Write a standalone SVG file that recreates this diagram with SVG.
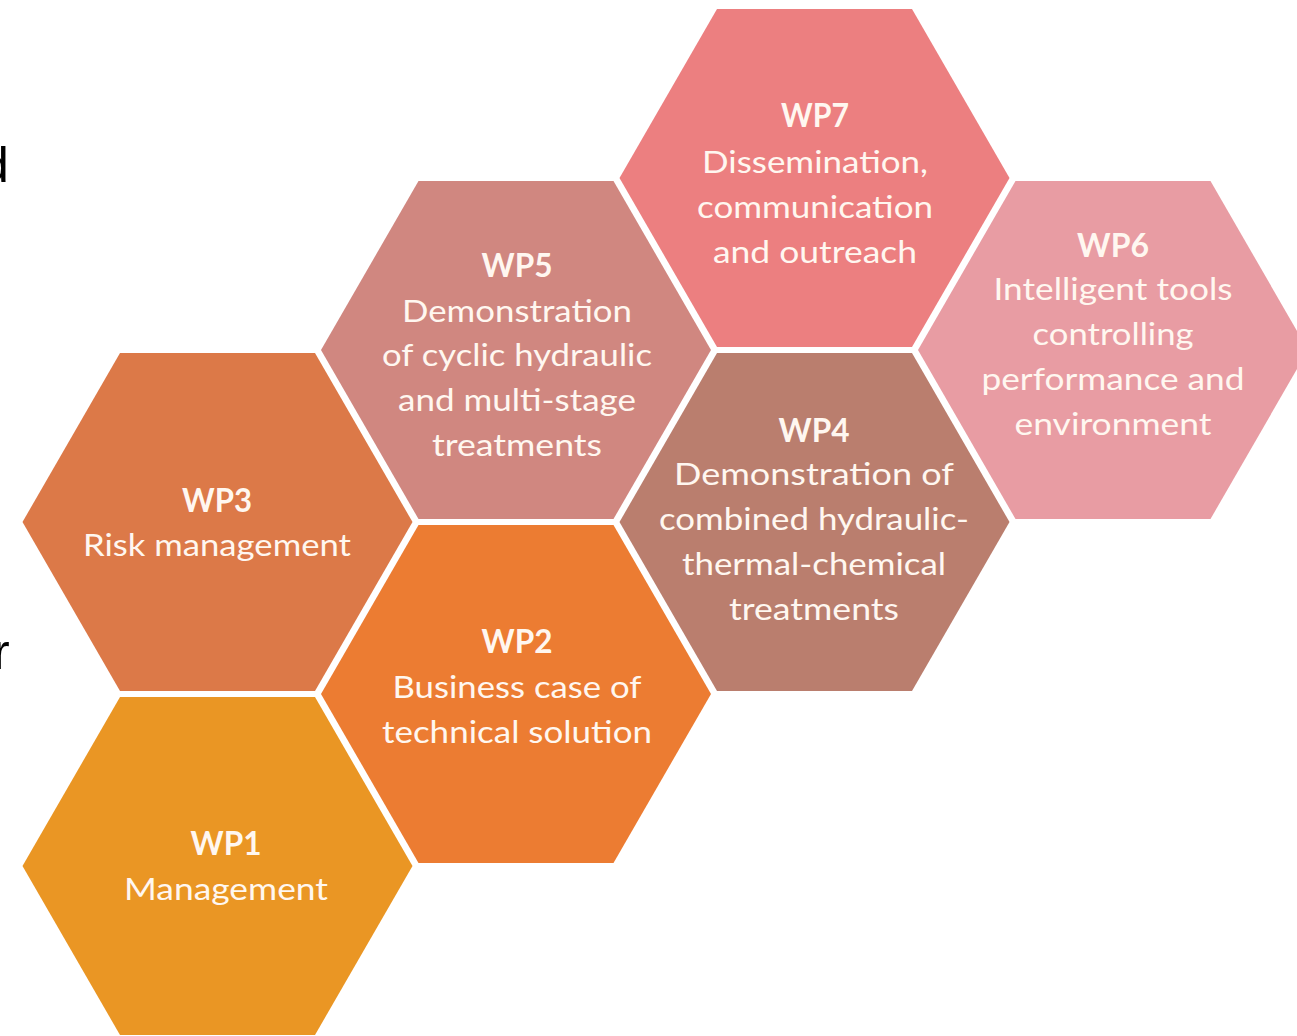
<svg xmlns="http://www.w3.org/2000/svg" width="1297" height="1036" viewBox="0 0 1297 1036">
<style>
.t{font-family:Lato,"Liberation Sans",sans-serif;font-size:31.5px;fill:#FFF7F0;text-anchor:middle}
.b{font-weight:bold}
.edge{font-family:"Liberation Sans",sans-serif;font-size:50px;fill:#000}
</style>
<defs>
<polygon id="hex" points="-195,0 -97.5,-169 97.5,-169 195,0 97.5,169 -97.5,169"/>
</defs>
<rect width="1297" height="1036" fill="#FFFFFF"/>
<text class="edge" x="-19" y="182">d</text>
<text class="edge" x="-7" y="669">r</text>
<g id="connectors"/>
<g id="wp1">
<use href="#hex" x="217.5" y="866" fill="#EA9624"/>
<text class="t b" x="226" y="855" textLength="71" lengthAdjust="spacingAndGlyphs">WP1</text>
<text class="t" x="226" y="900" textLength="204" lengthAdjust="spacingAndGlyphs">Management</text>
</g>
<g id="wp3">
<use href="#hex" x="217.5" y="522" fill="#DC7948"/>
<text class="t b" x="217" y="512" textLength="70" lengthAdjust="spacingAndGlyphs">WP3</text>
<text class="t" x="217" y="556" textLength="268" lengthAdjust="spacingAndGlyphs">Risk management</text>
</g>
<g id="wp2">
<use href="#hex" x="516" y="694" fill="#EC7C32"/>
<text class="t b" x="517" y="653" textLength="71" lengthAdjust="spacingAndGlyphs">WP2</text>
<text class="t" x="517" y="698" textLength="249" lengthAdjust="spacingAndGlyphs">Business case of</text>
<text class="t" x="517" y="743" textLength="270" lengthAdjust="spacingAndGlyphs">technical solution</text>
</g>
<g id="wp5">
<use href="#hex" x="516" y="350" fill="#D08780"/>
<text class="t b" x="517" y="277" textLength="71" lengthAdjust="spacingAndGlyphs">WP5</text>
<text class="t" x="517" y="322" textLength="230" lengthAdjust="spacingAndGlyphs">Demonstration</text>
<text class="t" x="517" y="366" textLength="270" lengthAdjust="spacingAndGlyphs">of cyclic hydraulic</text>
<text class="t" x="517" y="411" textLength="238" lengthAdjust="spacingAndGlyphs">and multi-stage</text>
<text class="t" x="517" y="456" textLength="170" lengthAdjust="spacingAndGlyphs">treatments</text>
</g>
<g id="wp4">
<use href="#hex" x="814.5" y="522" fill="#BA7E6E"/>
<text class="t b" x="814" y="442" textLength="71" lengthAdjust="spacingAndGlyphs">WP4</text>
<text class="t" x="814" y="485" textLength="280" lengthAdjust="spacingAndGlyphs">Demonstration of</text>
<text class="t" x="814" y="530" textLength="310" lengthAdjust="spacingAndGlyphs">combined hydraulic-</text>
<text class="t" x="814" y="575" textLength="264" lengthAdjust="spacingAndGlyphs">thermal-chemical</text>
<text class="t" x="814" y="620" textLength="170" lengthAdjust="spacingAndGlyphs">treatments</text>
</g>
<g id="wp7">
<use href="#hex" x="814.5" y="178" fill="#EC7F80"/>
<text class="t b" x="815" y="127" textLength="68" lengthAdjust="spacingAndGlyphs">WP7</text>
<text class="t" x="815" y="173" textLength="226" lengthAdjust="spacingAndGlyphs">Dissemination,</text>
<text class="t" x="815" y="218" textLength="236" lengthAdjust="spacingAndGlyphs">communication</text>
<text class="t" x="815" y="263" textLength="204" lengthAdjust="spacingAndGlyphs">and outreach</text>
</g>
<g id="wp6">
<use href="#hex" x="1113" y="350" fill="#E89CA3"/>
<text class="t b" x="1113" y="257" textLength="72" lengthAdjust="spacingAndGlyphs">WP6</text>
<text class="t" x="1113" y="300" textLength="239" lengthAdjust="spacingAndGlyphs">Intelligent tools</text>
<text class="t" x="1113" y="345" textLength="161" lengthAdjust="spacingAndGlyphs">controlling</text>
<text class="t" x="1113" y="390" textLength="263" lengthAdjust="spacingAndGlyphs">performance and</text>
<text class="t" x="1113" y="435" textLength="197" lengthAdjust="spacingAndGlyphs">environment</text>
</g>
</svg>
